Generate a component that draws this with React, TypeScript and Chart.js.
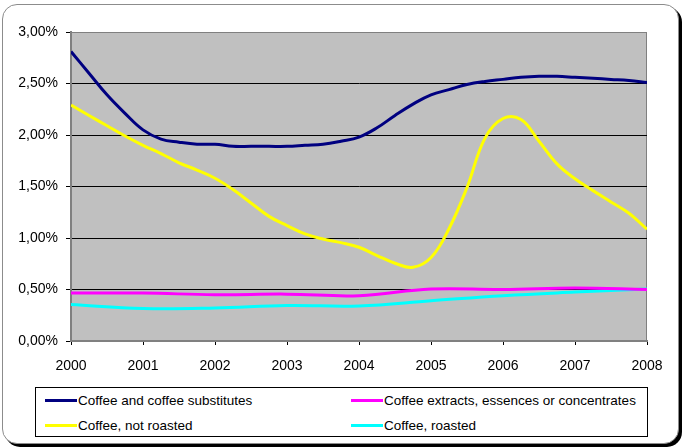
import React, { useEffect, useRef } from 'react';
import { Chart, registerables } from 'chart.js';

Chart.register(...registerables);

const tickYears = [2000, 2001, 2002, 2003, 2004, 2005, 2006, 2007, 2008];
const quarters = [
  2000, 2000.25, 2000.5, 2000.75,
  2001, 2001.25, 2001.5, 2001.75,
  2002, 2002.25, 2002.5, 2002.75,
  2003, 2003.25, 2003.5, 2003.75,
  2004, 2004.25, 2004.5, 2004.75,
  2005, 2005.25, 2005.5, 2005.75,
  2006, 2006.25, 2006.5, 2006.75,
  2007, 2007.25, 2007.5, 2007.75,
  2008,
];

const substitutes = [
  2.81, 2.60, 2.39, 2.21,
  2.05, 1.96, 1.93, 1.91,
  1.91, 1.89, 1.89, 1.89,
  1.89, 1.90, 1.91, 1.94,
  1.98, 2.07, 2.19, 2.30,
  2.39, 2.44, 2.49, 2.52,
  2.54, 2.56, 2.57, 2.57,
  2.56, 2.55, 2.54, 2.53,
  2.51,
];

const notRoasted = [
  2.29, 2.19, 2.09, 1.99,
  1.90, 1.82, 1.73, 1.66,
  1.58, 1.47, 1.34, 1.21,
  1.12, 1.04, 0.99, 0.955,
  0.91, 0.83, 0.755, 0.715,
  0.81, 1.09, 1.49, 1.97,
  2.16, 2.15, 1.94, 1.72,
  1.575, 1.46, 1.35, 1.24,
  1.085,
];

const extracts = [0.465, 0.465, 0.45, 0.455, 0.44, 0.505, 0.50, 0.515, 0.50];
const roasted = [0.355, 0.315, 0.32, 0.345, 0.34, 0.39, 0.44, 0.475, 0.505];

const seriesNames = [
  'Coffee and coffee substitutes',
  'Coffee extracts, essences or concentrates',
  'Coffee, not roasted',
  'Coffee, roasted',
];
const seriesColors = ['#000080', '#FF00FF', '#FFFF00', '#00FFFF'];

const FONT = "'Liberation Sans', Arial, sans-serif";

const plotBg = {
  id: 'plotBg',
  beforeDraw(chart: any) {
    const { ctx, chartArea } = chart;
    const { left, top, right, bottom } = chartArea;
    ctx.save();
    ctx.fillStyle = '#C0C0C0';
    ctx.fillRect(left, top, right - left, bottom - top);
    ctx.strokeStyle = '#808080';
    ctx.lineWidth = 1;
    ctx.strokeRect(left + 0.5, top + 0.5, right - left - 1, bottom - top - 1);
    ctx.restore();
  },
};

function App() {
  const canvasRef = useRef<HTMLCanvasElement | null>(null);

  useEffect(() => {
    const canvas = canvasRef.current;
    if (!canvas) return;
    const toPts = (xs: number[], ys: number[]) => ys.map((y, i) => ({ x: xs[i], y }));
    const seriesData = [
      toPts(quarters, substitutes),
      toPts(tickYears, extracts),
      toPts(quarters, notRoasted),
      toPts(tickYears, roasted),
    ];
    const chart = new Chart(canvas, {
      type: 'line',
      data: {
        datasets: seriesNames.map((name, i) => ({
          label: name,
          data: seriesData[i],
          borderColor: seriesColors[i],
          backgroundColor: seriesColors[i],
          borderWidth: 3,
          pointRadius: 0,
          tension: 0.4,
          fill: false,
        })),
      },
      options: {
        animation: false,
        responsive: false,
        devicePixelRatio: 1,
        layout: { padding: { left: 0, top: 32, right: 39, bottom: 69 } },
        plugins: {
          legend: { display: false },
          tooltip: { enabled: false },
        },
        scales: {
          x: {
            type: 'linear',
            min: 2000,
            max: 2008,
            afterFit: (s: any) => { s.height = 38; },
            afterBuildTicks: (s: any) => { s.ticks = tickYears.map((v) => ({ value: v })); },
            ticks: {
              stepSize: 1,
              callback: (v: any) => String(v),
              font: { family: FONT, size: 14 },
              color: '#000',
              padding: 13,
              maxRotation: 0,
            },
            grid: {
              drawOnChartArea: false,
              drawTicks: true,
              tickLength: 4,
              color: '#000',
            },
            border: { color: '#808080', width: 2 },
          },
          y: {
            min: 0,
            max: 3,
            afterFit: (s: any) => { s.width = 71; },
            ticks: {
              stepSize: 0.5,
              callback: (v: any) => Number(v).toFixed(2).replace('.', ',') + '%',
              font: { family: FONT, size: 14 },
              color: '#000',
              padding: 8,
            },
            grid: {
              color: (c: any) => {
                const v = c?.tick?.value;
                return v === 0 || v === 3 ? 'rgba(0,0,0,0)' : '#000';
              },
              tickColor: '#000',
              tickLength: 5,
              lineWidth: 1,
            },
            border: { color: '#808080', width: 2 },
          },
        },
      },
      plugins: [plotBg],
    } as any);
    return () => chart.destroy();
  }, []);

  const legendRows = [
    [0, 1],
    [2, 3],
  ];
  const colX = [45, 351];
  const rowY = [400, 425];

  return (
    <div style={{ position: 'fixed', left: 0, top: 0, width: 686, height: 448, background: '#fff', fontFamily: FONT }}>
      <div
        style={{
          position: 'absolute',
          left: 2,
          top: 4,
          width: 677,
          height: 440,
          boxSizing: 'border-box',
          border: '1px solid #8c8c8c',
          borderRadius: 15,
          boxShadow: '3px 3px 0 #000',
          background: '#fff',
        }}
      />
      <canvas ref={canvasRef} width={686} height={448} style={{ position: 'absolute', left: 0, top: 0, width: 686, height: 448 }} />
      <div
        style={{
          position: 'absolute',
          left: 35,
          top: 387,
          width: 613,
          height: 50,
          boxSizing: 'border-box',
          border: '1px solid #000',
          background: '#fff',
        }}
      />
      {legendRows.map((row, r) =>
        row.map((si, c) => (
          <div key={si} style={{ position: 'absolute', left: colX[c], top: rowY[r] - 9, height: 18, display: 'flex', alignItems: 'center', whiteSpace: 'nowrap' }}>
            <div style={{ width: 32, height: 3, background: seriesColors[si] }} />
            <span style={{ fontSize: 13.5, color: '#000', marginLeft: 1 }}>{seriesNames[si]}</span>
          </div>
        ))
      )}
    </div>
  );
}

export default App;
